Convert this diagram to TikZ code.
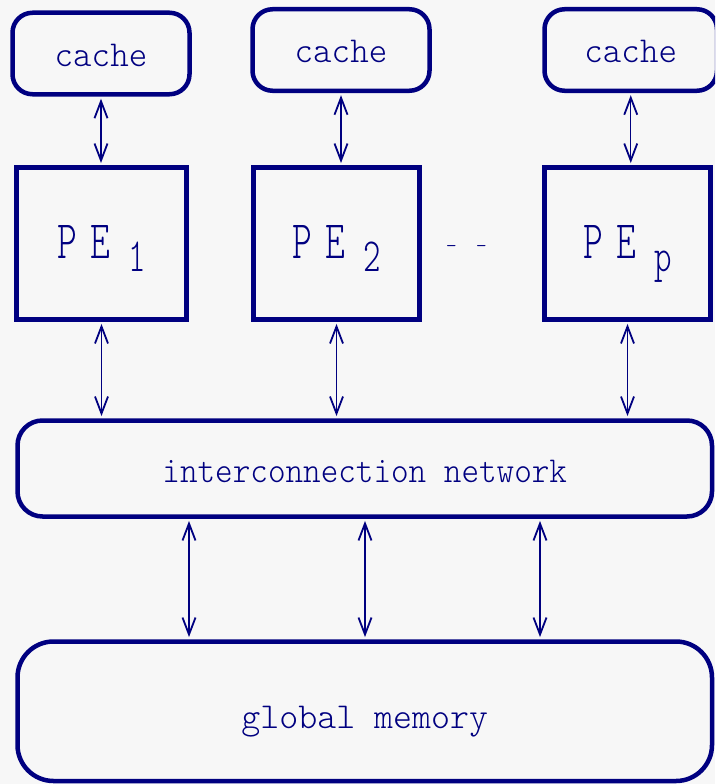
\documentclass[tikz,border=0pt]{standalone}
\usepackage{fontspec}
\usepackage{graphicx}
\usetikzlibrary{arrows.meta}
\newfontfamily\lmlight{lmmonolt10-regular.otf}
\definecolor{navy}{RGB}{0,0,128}
\definecolor{bgcol}{RGB}{247,247,247}
\newcommand\hsc[2]{\scalebox{#1}[1]{#2}}
\newcommand\pelabel[1]{\hsc{0.7}{\fontsize{54}{54}\selectfont P\kern18.8pt E\kern26pt\raisebox{-13pt}{\fontsize{47.5}{47.5}\selectfont #1}}}
\begin{document}
\begin{tikzpicture}[x=1pt,y=-1pt,
  box/.style={draw=navy, line width=4.5pt, inner sep=0pt, text=navy,
    font=\lmlight\fontsize{36.5}{40}\selectfont},
  cachebox/.style={box, rounded corners=20pt, minimum width=177pt, minimum height=81.5pt, text height=26pt, text depth=0pt},
  pebox/.style={box, minimum width=168pt, minimum height=152pt, text height=33pt, text depth=4pt},
  arr/.style={navy, line width=1.4pt, shorten >=2.2pt, shorten <=2.2pt,
    {Straight Barb[length=17pt,width=13pt,line width=1.8pt]}-{Straight Barb[length=17pt,width=13pt,line width=1.8pt]}}
]
\fill[bgcol] (0,0) rectangle (715,784);
\clip (0,0) rectangle (715,784);

\node[cachebox] (c1) at (101,53.5) {\hsc{0.967}{cache}};
\node[cachebox] (c2) at (341,50) {\hsc{0.967}{cache}};
\node[cachebox, minimum width=172.5pt] (c3) at (630.75,50) {\hsc{0.967}{cache}};

\node[pebox, minimum width=170pt] (p1) at (101.5,243.5) {\pelabel{1}};
\node[pebox, minimum width=166pt] (p2) at (336.5,243.5) {\pelabel{2}};
\node[pebox, minimum width=166pt] (p3) at (627.5,243.5) {\pelabel{p}};

\node[text=navy, font=\lmlight\fontsize{21}{24}\selectfont, anchor=base, inner sep=0pt] (dots) at (466.5,252.5) {-~\kern8pt-};

\node[box, rounded corners=25pt, minimum width=694.5pt, minimum height=96pt, text height=27pt, text depth=0pt] (net) at (364.75,468.5) {\hsc{0.918}{interconnection network}};
\node[box, rounded corners=36pt, minimum width=694.5pt, minimum height=139.5pt, text height=34pt, text depth=0pt] (mem) at (364.75,711.25) {\hsc{0.99}{global memory}};

\coordinate (m1) at (189,0);
\coordinate (m2) at (365,0);
\coordinate (m3) at (540,0);

\draw[arr] (c1.south) -- (c1.south |- p1.north);
\draw[arr] (c2.south) -- (c2.south |- p2.north);
\draw[arr] (c3.south) -- (c3.south |- p3.north);
\draw[arr] (p1.south) -- (p1.south |- net.north);
\draw[arr] (p2.south) -- (p2.south |- net.north);
\draw[arr] (p3.south) -- (p3.south |- net.north);
\draw[arr] (net.south -| m1) -- (mem.north -| m1);
\draw[arr] (net.south -| m2) -- (mem.north -| m2);
\draw[arr] (net.south -| m3) -- (mem.north -| m3);
\end{tikzpicture}
\end{document}
